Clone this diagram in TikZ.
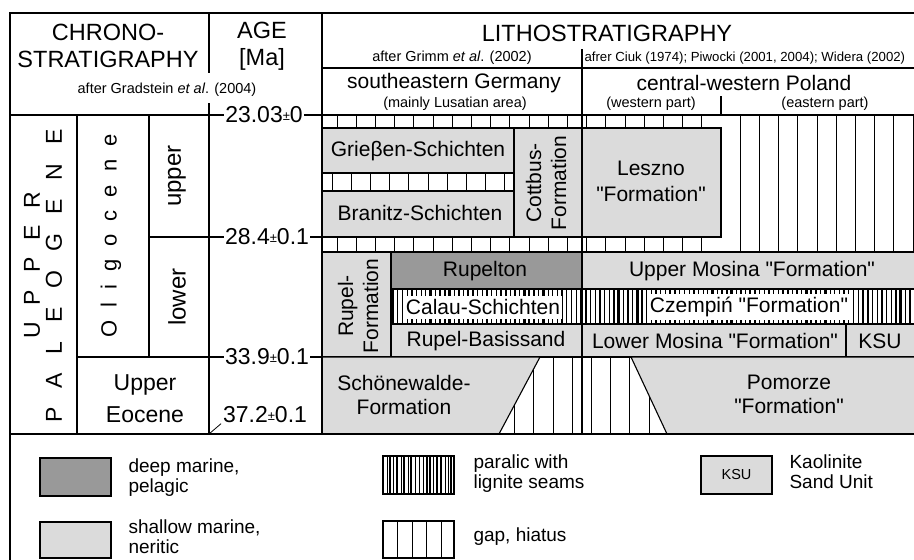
\documentclass[tikz,border=0pt]{standalone}
\usepackage{fontspec}
\setmainfont{Liberation Sans}
\definecolor{deepgray}{gray}{0.6}
\definecolor{shallowgray}{gray}{0.86}
\newcommand{\agepm}{\raisebox{2.5pt}{\fontsize{13}{13}\selectfont ±}}
\newcommand{\lsp}[1]{\hspace{#1pt}}
\newcommand{\qq}{\textquotedbl}

\begin{document}
\begin{tikzpicture}[x=1pt, y=-1pt, line width=1.1pt,
    shallow/.style={draw, fill=shallowgray},
    deep/.style={draw, fill=deepgray},
    gapline/.style={line width=0.8pt},
    heading/.style={font=\fontsize{23.5}{27}\selectfont, align=center},
    unit/.style={font=\fontsize{21}{25}\selectfont, align=center},
    note/.style={font=\fontsize{14.5}{17}\selectfont},
    age/.style={font=\fontsize{23}{26}\selectfont, fill=white, inner xsep=1.5pt, inner ysep=0pt},
    legend/.style={font=\fontsize{19}{20}\selectfont, align=left, anchor=west, inner sep=0pt}]
    \useasboundingbox (0,0) rectangle (914,560);

    % Shallow and deep marine units
    \draw[shallow] (322,128) rectangle (514,173);
    \draw[shallow] (322,191) rectangle (514,237);
    \draw[shallow] (514,128) rectangle (582,237);
    \draw[shallow] (582,128) rectangle (721,237);
    \draw[shallow] (322,252) rectangle (391,357);
    \draw[deep] (391,252) rectangle (582,289);
    \draw[shallow] (582,252) rectangle (920,289);
    \draw[shallow] (391,324) rectangle (582,357);
    \draw[shallow] (582,324) rectangle (846,357);
    \draw[shallow] (846,324) rectangle (920,357);
    \draw[shallow] (322,357) -- (540,357) -- (499,434) -- (322,434);
    \draw[shallow] (920,357) -- (631,357) -- (667,434) -- (920,434);

    % Gap, hiatus
    \foreach \x in {337,356.2,...,720} \draw[gapline] (\x,115) -- (\x,128);
    \foreach \x in {332,351.2,...,512} \draw[gapline] (\x,173) -- (\x,191);
    \foreach \x in {337,356.2,...,720} \draw[gapline] (\x,237) -- (\x,252);
    \foreach \x in {740.2,759.4,...,914} \draw[gapline] (\x,115) -- (\x,252);
    \begin{scope}
        \clip (540,357) -- (631,357) -- (667,434) -- (499,434) -- cycle;
        \foreach \x in {514.5,533.7,...,670} \draw[gapline] (\x,357) -- (\x,434);
    \end{scope}

    % Paralic with lignite seams
    \foreach \x [count=\i] in {393,397.7,...,914} {
        \pgfmathsetmacro{\w}{mod(\i,4)==1 ? 2.4 : (mod(\i,3)==0 ? 1.7 : 1.1)}
        \draw[line width=\w pt] (\x,289) -- (\x,324);
    }
    \draw (391,289) -- (920,289);
    \draw (391,324) -- (920,324);

    % Frame and column lines
    \draw (10,560) -- (10,13) -- (914,13);
    \draw (209,13) -- (209,73);
    \draw (209,103) -- (209,434);
    \draw (322,13) -- (322,434);
    \draw (322,68) -- (914,68);
    \draw (582,49) -- (582,434);
    \draw (721,96) -- (721,115);
    \draw (10,115) -- (914,115);
    \draw (77,115) -- (77,434);
    \draw (149,115) -- (149,357);
    \draw (149,237) -- (322,237);
    \draw (77,357) -- (322,357);
    \draw (10,434) -- (914,434);

    % Headings
    \node[heading] (chrono) at (108,46) {CHRONO-\\STRATIGRAPHY};
    \node[heading] (age) at (262,46) {AGE\\{}[Ma]};
    \node[heading] (litho) at (607,33) {LITHOSTRATIGRAPHY};
    \node[note] (gradstein) at (167,90) {after Gradstein \textit{et al}. (2004)};
    \node[note] (grimm) at (452,58) {after Grimm \textit{et al}. (2002)};
    \node[note, font=\fontsize{13.2}{16}\selectfont, anchor=west, inner xsep=1pt] (ciuk) at (583,58)
        {afrer Ciuk (1974); Piwocki (2001, 2004); Widera (2002)};
    \node[unit] (germany) at (454,83) {southeastern Germany};
    \node[note] (lusatia) at (455,104) {(mainly Lusatian area)};
    \node[unit] (poland) at (744,83) {central-western Poland};
    \node[note] (west) at (651,104) {(western part)};
    \node[note] (east) at (825,104) {(eastern part)};

    % Chronostratigraphy
    \node[font=\fontsize{23}{26}\selectfont, rotate=90] (upper) at (32,265)
        {U\lsp{17}P\lsp{17}P\lsp{17}E\lsp{17}R};
    \node[font=\fontsize{23}{26}\selectfont, rotate=90] (paleogene) at (54,276)
        {P\lsp{19}A\lsp{19}L\lsp{19}E\lsp{19}O\lsp{19}G\lsp{19}E\lsp{19}N\lsp{19}E};
    \node[font=\fontsize{22}{26}\selectfont, rotate=90] (oligocene) at (111,236)
        {O\lsp{13}l\lsp{13}i\lsp{13}g\lsp{13}o\lsp{13}c\lsp{13}e\lsp{13}n\lsp{13}e};
    \node[font=\fontsize{24}{26}\selectfont, rotate=90] (oliup) at (177,176) {upper};
    \node[font=\fontsize{24}{26}\selectfont, rotate=90] (olilow) at (177,297) {lower};
    \node[font=\fontsize{23}{32}\selectfont, align=center] (eocene) at (145,399) {Upper\\Eocene};

    % Ages
    \node[age] (a23) at (264,115) {23.03\agepm 0};
    \node[age] (a28) at (267,237) {28.4\agepm 0.1};
    \node[age] (a33) at (267,357) {33.9\agepm 0.1};
    \node[age, fill=none] (a37) at (265,415) {37.2\agepm 0.1};
    \coordinate (corner) at (209,434);
    \draw[line width=0.8pt] (corner) -- (a37.south west);

    % Lithostratigraphy
    \node[unit] (griessen) at (418,151) {Grieβen-Schichten};
    \node[unit] (branitz) at (420,213) {Branitz-Schichten};
    \node[unit, rotate=90] (cottbus) at (546,183) {Cottbus-\\Formation};
    \node[unit, font=\fontsize{21}{26}\selectfont] (leszno) at (651,181) {Leszno\\\qq Formation\qq};
    \node[unit, rotate=90] (rupel) at (358,306) {Rupel-\\Formation};
    \node[unit] (rupelton) at (485,271) {Rupelton};
    \node[unit, fill=white, inner xsep=2pt, minimum height=23] (calau) at (483,307) {Calau-Schichten};
    \node[unit] (basissand) at (486,341) {Rupel-Basissand};
    \node[unit] (uppermosina) at (752,271) {Upper Mosina \qq Formation\qq};
    \node[unit, fill=white, inner xsep=2pt, minimum height=23] (czempin) at (749,307) {Czempiń \qq Formation\qq};
    \node[unit] (lowermosina) at (715,341) {Lower Mosina \qq Formation\qq};
    \node[unit] (ksu) at (880,341) {KSU};
    \node[unit, font=\fontsize{21}{24}\selectfont] (schoenewalde) at (404,395) {Schönewalde-\\Formation};
    \node[unit, font=\fontsize{21}{24}\selectfont] (pomorze) at (789,394) {Pomorze\\\qq Formation\qq};

    % Legend
    \draw[deep] (40,458) rectangle (111,496);
    \node[legend] (deeptext) at (128,478) {deep marine,\\pelagic};
    \draw[shallow] (40,522) rectangle (111,558);
    \node[legend] (shallowtext) at (128,537) {shallow marine,\\neritic};
    \foreach \x/\w in {387/1,390/1.6,393.5/1,397/2.5,401/1,404/1.6,408/1,411/2.8,415/1,419/1,423/1,427/1.6,430/2.5,433.5/1,437/1.6,441/2.8,445/1,448.5/1,451/1.6}
        \draw[line width=\w pt] (\x,456) -- (\x,494);
    \draw (383,456) rectangle (454,494);
    \node[legend] (paralictext) at (473,474) {paralic with\\lignite seams};
    \draw (383,521) rectangle (454,558);
    \foreach \x in {397.5,412,426.5,441} \draw[gapline] (\x,521) -- (\x,558);
    \node[legend] (gaptext) at (473,537) {gap, hiatus};
    \draw[shallow] (701,456) rectangle (772,494);
    \node[note] (ksubox) at (736.5,475) {KSU};
    \node[legend] (ksutext) at (789,472) {Kaolinite\\Sand Unit};
\end{tikzpicture}
\end{document}
